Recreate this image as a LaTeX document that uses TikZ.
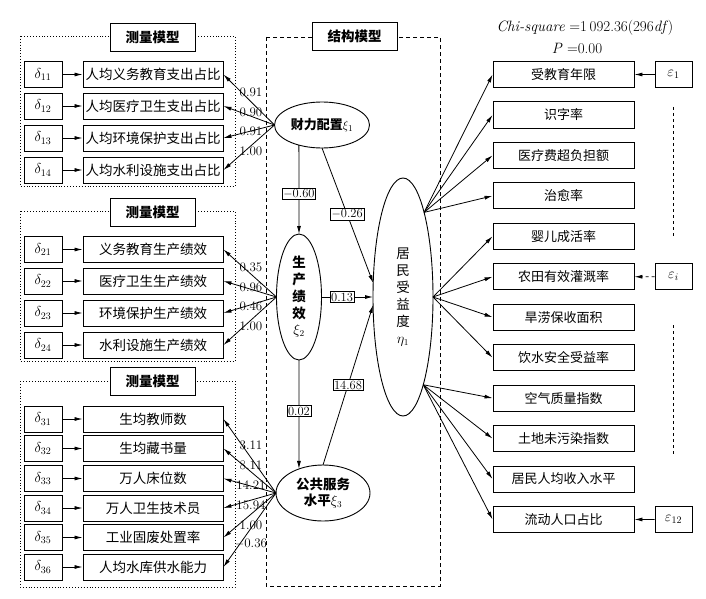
\documentclass[tikz,border=0pt]{standalone}
\usepackage{fontspec}
\newfontfamily\cjk{Noto Sans CJK SC}
\usetikzlibrary{shapes.geometric,arrows.meta}
\begin{document}
\begin{tikzpicture}[x=1pt,y=-1pt,
  box/.style={draw,line width=0.9pt,minimum height=26pt,inner sep=0pt,font=\cjk\fontsize{13.5}{15}\selectfont},
  lbox/.style={box,minimum width=140pt},
  rbox/.style={box,minimum width=141pt,font=\cjk\fontsize{13}{15}\selectfont},
  ebox/.style={draw,line width=0.9pt,minimum height=26pt,minimum width=38pt,inner sep=0pt,font=\fontsize{14.5}{16}\selectfont},
  ttl/.style={draw,line width=0.9pt,fill=white,minimum width=85pt,minimum height=28pt,inner sep=0pt,font=\cjk\bfseries\fontsize{13.5}{15}\selectfont},
  lat/.style={ellipse,draw,line width=0.9pt,inner sep=0pt,outer sep=0pt,align=center},
  arr/.style={line width=0.8pt,-{Latex[length=8pt,width=4pt]}},
  coef/.style={font=\fontsize{13}{14}\selectfont,inner sep=0.5pt},
  pcoef/.style={draw,line width=0.7pt,fill=white,font=\fontsize{12.5}{13}\selectfont,inner sep=1.2pt},
  grp/.style={dotted,line width=0.9pt},
  sgrp/.style={dash pattern=on 4pt off 3pt,line width=0.8pt},
]
\useasboundingbox (0,0) rectangle (706,599);

% group frames
\draw[grp] (20,36) rectangle (235,186);
\draw[grp] (20,211) rectangle (235,361);
\draw[grp] (20,381) rectangle (235,587);
\draw[sgrp] (266,37) rectangle (440,586);
\node[ttl] (t1) at (152.5,37) {测量模型};
\node[ttl] (t2) at (152.5,212) {测量模型};
\node[ttl] (t3) at (152.5,381) {测量模型};
\node[ttl] (t4) at (354.5,36.5) {结构模型};

% group 1
\node[lbox] (i11) at (153,74.5) {人均义务教育支出占比};
\node[lbox] (i12) at (153,106) {人均医疗卫生支出占比};
\node[lbox] (i13) at (153,138) {人均环境保护支出占比};
\node[lbox] (i14) at (153,170) {人均水利设施支出占比};
\node[ebox] (d11) at (43,74.5) {$\delta_{11}$};
\node[ebox] (d12) at (43,106) {$\delta_{12}$};
\node[ebox] (d13) at (43,138) {$\delta_{13}$};
\node[ebox] (d14) at (43,170) {$\delta_{14}$};

% group 2
\node[lbox] (i21) at (153,249.5) {义务教育生产绩效};
\node[lbox] (i22) at (153,281) {医疗卫生生产绩效};
\node[lbox] (i23) at (153,313) {环境保护生产绩效};
\node[lbox] (i24) at (153,345) {水利设施生产绩效};
\node[ebox] (d21) at (43,249.5) {$\delta_{21}$};
\node[ebox] (d22) at (43,281) {$\delta_{22}$};
\node[ebox] (d23) at (43,313) {$\delta_{23}$};
\node[ebox] (d24) at (43,345) {$\delta_{24}$};

% group 3
\node[lbox] (i31) at (153,419) {生均教师数};
\node[lbox] (i32) at (153,448.5) {生均藏书量};
\node[lbox] (i33) at (153,478.5) {万人床位数};
\node[lbox] (i34) at (153,508) {万人卫生技术员};
\node[lbox] (i35) at (153,537.5) {工业固废处置率};
\node[lbox] (i36) at (153,567) {人均水库供水能力};
\node[ebox] (d31) at (43,419) {$\delta_{31}$};
\node[ebox] (d32) at (43,448.5) {$\delta_{32}$};
\node[ebox] (d33) at (43,478.5) {$\delta_{33}$};
\node[ebox] (d34) at (43,508) {$\delta_{34}$};
\node[ebox] (d35) at (43,537.5) {$\delta_{35}$};
\node[ebox] (d36) at (43,567) {$\delta_{36}$};

\foreach \g/\k in {1/1,1/2,1/3,1/4,2/1,2/2,2/3,2/4,3/1,3/2,3/3,3/4,3/5,3/6}
  \draw[arr] (d\g\k) -- (i\g\k);

% latent variables
\node[lat,minimum width=95pt,minimum height=46pt,font=\cjk\bfseries\fontsize{13}{15}\selectfont] (xi1) at (322,125) {财力配置$\xi_1$};
\node[lat,minimum width=45pt,minimum height=126pt,font=\cjk\bfseries\fontsize{13.5}{16.7}\selectfont] (xi2) at (299,297) {生\\产\\绩\\效\\$\xi_2$};
\node[lat,minimum width=94pt,minimum height=56pt,font=\cjk\bfseries\fontsize{13.5}{16}\selectfont] (xi3) at (323,493) {公共服务\\水平$\xi_3$};
\node[lat,minimum width=60pt,minimum height=238pt,font=\cjk\fontsize{13.5}{17}\selectfont] (eta) at (403,297) {居\\民\\受\\益\\度\\$\eta_1$};

% measurement loadings
\foreach \k in {1,2,3,4} \draw[arr] (xi1.west) -- (i1\k.east);
\foreach \k in {1,2,3,4} \draw[arr] (xi2.west) -- (i2\k.east);
\foreach \k in {1,2,3,4,5,6} \draw[arr] (xi3.west) -- (i3\k.east);

\node[coef] (c11) at (251,92) {0.91};
\node[coef] (c12) at (251,112) {0.90};
\node[coef] (c13) at (251,131) {0.91};
\node[coef] (c14) at (251,151) {1.00};
\node[coef] (c21) at (251,267) {0.35};
\node[coef] (c22) at (251,287) {0.96};
\node[coef] (c23) at (251,306) {0.46};
\node[coef] (c24) at (251,326) {1.00};
\node[coef] (c31) at (251,445) {3.11};
\node[coef] (c32) at (251,465) {8.11};
\node[coef] (c33) at (251,485) {14.21};
\node[coef] (c34) at (251,505) {15.94};
\node[coef] (c35) at (251,525) {1.00};
\node[coef] (c36) at (251,544) {$-$0.36};

% structural paths
\draw[arr] (xi1.221) -- node[pcoef,pos=0.55] {$-$0.60} (xi2.north);
\draw[arr] (xi1.south) -- node[pcoef,pos=0.49] {$-$0.26} (eta.155);
\draw[arr] (xi2.east) -- node[pcoef,pos=0.4] {0.13} (eta.west);
\draw[arr] (xi2.south) -- node[pcoef,pos=0.47] {0.02} (xi3.135);
\draw[arr] (xi3.north) -- node[pcoef,pos=0.5] {14.68} (eta.195);

% right indicators
\foreach \i/\t in {1/受教育年限,2/识字率,3/医疗费超负担额,4/治愈率,5/婴儿成活率,6/农田有效灌溉率,7/旱涝保收面积,8/饮水安全受益率,9/空气质量指数,10/土地未污染指数,11/居民人均收入水平,12/流动人口占比}
  \node[rbox] (r\i) at (563.5,{74.5+40.45*(\i-1)}) {\t};

\foreach \i in {1,2,3,4} \draw[arr] (eta.76) -- (r\i.west);
\foreach \i in {5,6,7,8} \draw[arr] (eta.east) -- (r\i.west);
\foreach \i in {9,10,11,12} \draw[arr] (eta.-77) -- (r\i.west);

\node[ebox,minimum width=37pt] (e1) at (673.5,74.5) {$\varepsilon_1$};
\node[ebox,minimum width=37pt] (ei) at (673.5,276.75) {$\varepsilon_i$};
\node[ebox,minimum width=37pt] (e12) at (673.5,519.45) {$\varepsilon_{12}$};
\draw[arr] (e1) -- (r1);
\draw[arr,dashed] (ei) -- (r6);
\draw[arr] (e12) -- (r12);
\draw[dashed,line width=0.9pt] (673,107) -- (673,237);
\draw[dashed,line width=0.9pt] (673,325) -- (673,455);

% fit statistics
\node[font=\fontsize{15}{17}\selectfont] (chi) at (585,28) {\textit{Chi-square} =1\,092.36(296\textit{df})};
\node[font=\fontsize{15}{17}\selectfont] (pv) at (577,48) {\textit{P} =0.00};
\end{tikzpicture}
\end{document}
